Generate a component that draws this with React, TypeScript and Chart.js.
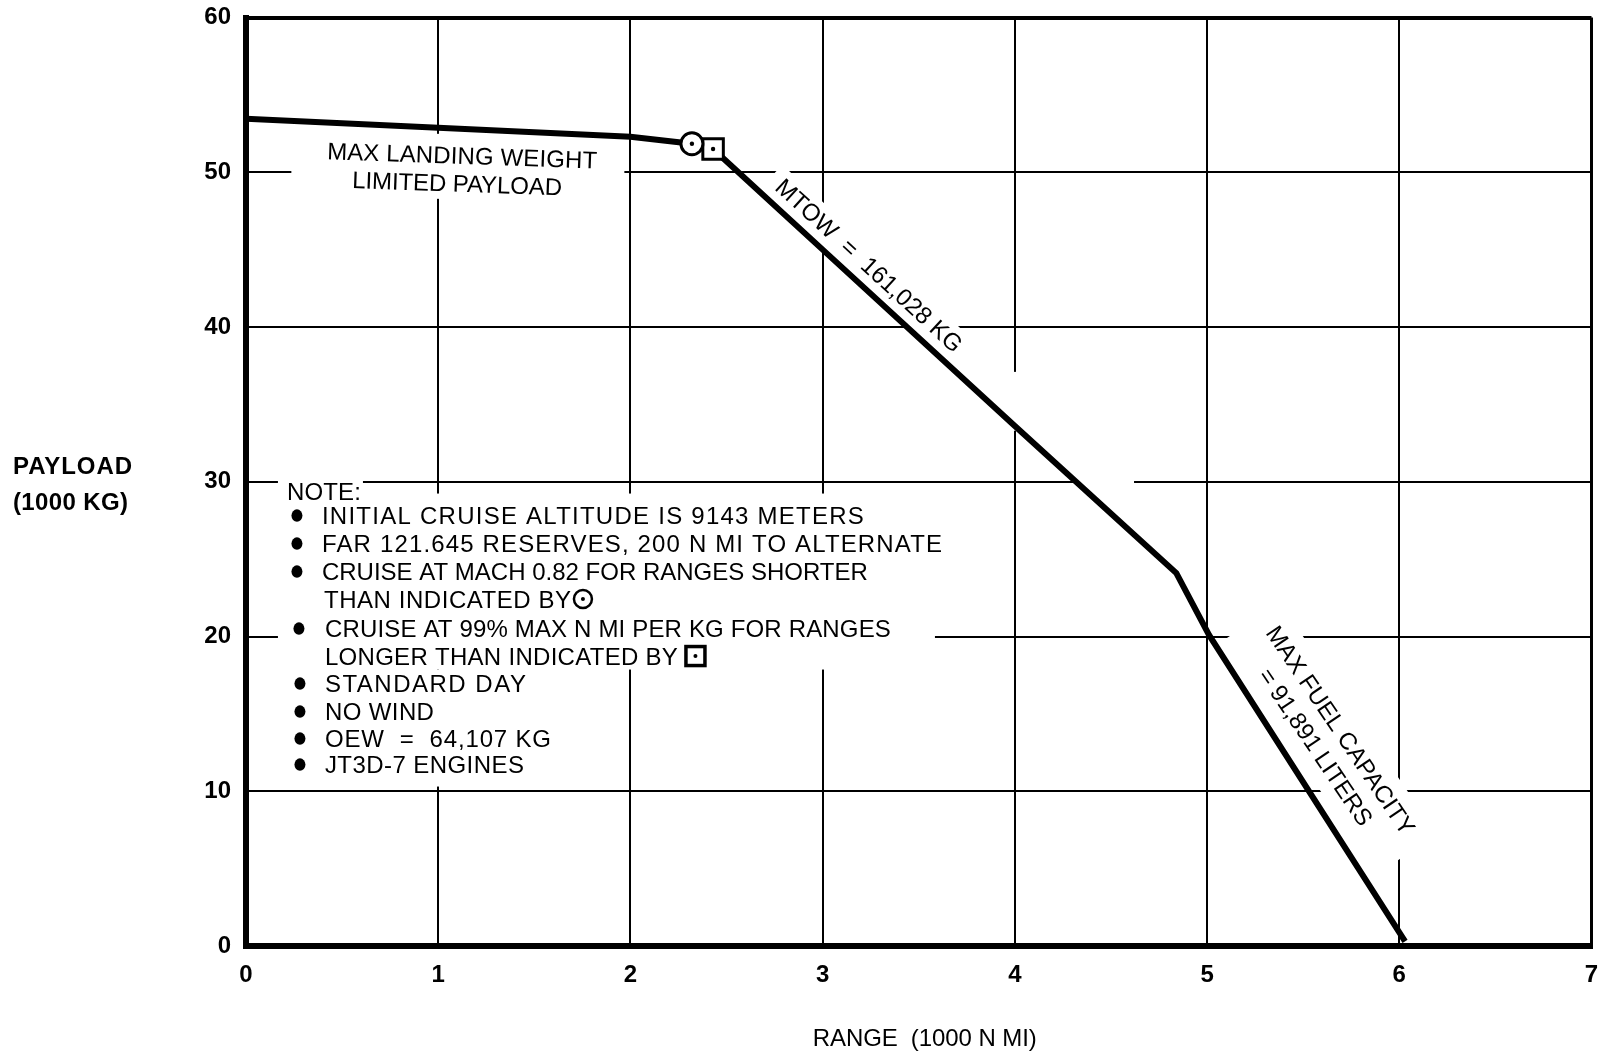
import { useEffect, useRef } from 'react';
import { Chart, registerables } from 'chart.js';

Chart.register(...registerables);

const FONT = '"Liberation Sans", Arial, Helvetica, sans-serif';

// Payload-range curve (range in 1000 N MI, payload in 1000 KG)
const rangeThousandNmi = [0, 1.0, 2.0, 2.32, 2.43, 3.0, 4.0, 4.84, 5.01, 6.03];
const payloadThousandKg = [53.46, 52.88, 52.3, 51.84, 51.5, 45.0, 33.6, 24.1, 20.1, 0.3];

// Cruise-mode change markers
const circleMarkerRange = [2.32];
const circleMarkerPayload = [51.84];
const squareMarkerRange = [2.43];
const squareMarkerPayload = [51.5];

// Axes
const xTickValues = [0, 1, 2, 3, 4, 5, 6, 7];
const yTickValues = [0, 10, 20, 30, 40, 50, 60];
const xAxisTitle = 'RANGE  (1000 N MI)';
const yAxisTitle = ['PAYLOAD', '(1000 KG)'];

// Text on the chart
const landingLabel = ['MAX LANDING WEIGHT', 'LIMITED PAYLOAD'];
const mtowLabel = 'MTOW  =  161,028 KG';
const fuelLabel = ['MAX FUEL CAPACITY', '= 91,891 LITERS'];
const noteTitle = 'NOTE:';
const noteLines = [
  'INITIAL CRUISE ALTITUDE IS 9143 METERS',
  'FAR 121.645 RESERVES, 200 N MI TO ALTERNATE',
  'CRUISE AT MACH 0.82 FOR RANGES SHORTER',
  'THAN INDICATED BY',
  'CRUISE AT 99% MAX N MI PER KG FOR RANGES',
  'LONGER THAN INDICATED BY',
  'STANDARD DAY',
  'NO WIND',
  'OEW  =  64,107 KG',
  'JT3D-7 ENGINES',
];
const noteBullets = [true, true, true, false, true, false, true, true, true, true];
const noteSymbols = ['', '', '', 'circle', '', 'square', '', '', '', ''];
// layout of the note block (pixel offsets from the anchor)
const noteWidths = [542, 620, 546, 247, 566, 353, 201, 109, 226, 199];
const noteTextX = [35, 35, 35, 37, 38, 38, 38, 38, 38, 38];
const noteBulletX = [10, 10, 10, 0, 12, 0, 13, 13, 13, 13];
const noteBaselines = [24, 52, 80, 108, 137, 165, 192, 220, 247, 273];

function fitText(ctx: CanvasRenderingContext2D, text: string, x: number, y: number, width?: number) {
  (ctx as any).letterSpacing = '0px';
  if (width) {
    const w = ctx.measureText(text).width;
    const n = Array.from(text).length;
    const ls = (width - w) / Math.max(1, n - 1);
    (ctx as any).letterSpacing = ls.toFixed(2) + 'px';
    if (ctx.textAlign === 'center') x += ls / 2;
  }
  ctx.fillText(text, x, y);
  (ctx as any).letterSpacing = '0px';
}

const annotationPlugin = {
  id: 'payloadAnnotations',
  beforeDatasetsDraw(chart: any) {
    const ctx: CanvasRenderingContext2D = chart.ctx;
    const xs = chart.scales.x;
    const ys = chart.scales.y;
    const px = (v: number) => xs.getPixelForValue(v);
    const py = (v: number) => ys.getPixelForValue(v);
    ctx.save();

    // small white-out gaps in the original grid
    ctx.fillStyle = '#fff';
    const m1x0 = px(3.97), m1x1 = px(4.03), m1y0 = py(37.1), m1y1 = py(33.3);
    ctx.fillRect(m1x0, m1y0, m1x1 - m1x0, m1y1 - m1y0);
    const m2x0 = px(4.32), m2x1 = px(4.62), m2y0 = py(30.4), m2y1 = py(29.6);
    ctx.fillRect(m2x0, m2y0, m2x1 - m2x0, m2y1 - m2y0);

    ctx.fillStyle = '#000';
    ctx.textBaseline = 'alphabetic';

    // MAX LANDING WEIGHT LIMITED PAYLOAD
    {
      const cx = px(1.11), cy = py(49.64);
      ctx.save();
      ctx.fillStyle = '#fff';
      ctx.fillRect(cx - 168, cy - 44, 333, 65);
      ctx.translate(cx, cy);
      ctx.rotate((2 * Math.PI) / 180);
      ctx.fillStyle = '#000';
      ctx.font = `24px ${FONT}`;
      ctx.textAlign = 'center';
      fitText(ctx, landingLabel[0], 2, -14, 270);
      fitText(ctx, landingLabel[1], -2, 14, 210);
      ctx.restore();
    }

    // MTOW label
    {
      const cx = px(3.243), cy = py(44.0);
      ctx.save();
      ctx.translate(cx, cy);
      ctx.rotate((42.5 * Math.PI) / 180);
      ctx.fillStyle = '#fff';
      ctx.fillRect(-132, -15, 264, 37);
      ctx.fillStyle = '#000';
      ctx.font = `24px ${FONT}`;
      ctx.textAlign = 'center';
      fitText(ctx, mtowLabel, 0, 8.5, 244);
      ctx.restore();
    }

    // MAX FUEL CAPACITY label
    {
      const cx = px(5.696), cy = py(13.96);
      ctx.save();
      ctx.translate(cx, cy);
      ctx.rotate((56 * Math.PI) / 180);
      ctx.fillStyle = '#fff';
      ctx.fillRect(-140, -21, 280, 72);
      ctx.fillStyle = '#000';
      ctx.font = `24px ${FONT}`;
      ctx.textAlign = 'center';
      fitText(ctx, fuelLabel[0], 0, 8.5, 246);
      fitText(ctx, fuelLabel[1], 0, 38.5, 184);
      ctx.restore();
    }

    // NOTE block
    {
      const ax = px(0.213), ay = py(28.85);
      ctx.save();
      ctx.fillStyle = '#fff';
      ctx.fillRect(ax - 9, ay - 22, 85, 25);
      ctx.fillRect(ax - 9, ay - 6, 657, 176);
      ctx.fillRect(ax - 9, ay + 170, 282, 117);
      ctx.fillStyle = '#000';
      ctx.strokeStyle = '#000';
      ctx.font = `24px ${FONT}`;
      ctx.textAlign = 'left';
      fitText(ctx, noteTitle, ax, ay, 74);
      noteLines.forEach((line, i) => {
        const by = ay + noteBaselines[i];
        const tx = ax + noteTextX[i];
        if (noteBullets[i]) {
          ctx.beginPath();
          ctx.ellipse(ax + noteBulletX[i], by - 8, 5.5, 6.2, 0, 0, Math.PI * 2);
          ctx.fill();
        }
        fitText(ctx, line, tx, by, noteWidths[i]);
        const endX = tx + noteWidths[i];
        if (noteSymbols[i] === 'circle') {
          ctx.lineWidth = 2.5;
          ctx.beginPath();
          ctx.arc(endX + 12, by - 8.5, 9, 0, Math.PI * 2);
          ctx.stroke();
          ctx.beginPath();
          ctx.arc(endX + 12, by - 8.5, 2, 0, Math.PI * 2);
          ctx.fill();
        } else if (noteSymbols[i] === 'square') {
          ctx.lineWidth = 3.5;
          ctx.strokeRect(endX + 8, by - 18, 19, 19);
          ctx.beginPath();
          ctx.arc(endX + 17.5, by - 8.5, 2, 0, Math.PI * 2);
          ctx.fill();
        }
      });
      ctx.restore();
    }

    ctx.restore();
  },
  afterDraw(chart: any) {
    const ctx: CanvasRenderingContext2D = chart.ctx;
    const area = chart.chartArea;
    const ys = chart.scales.y;
    ctx.save();
    ctx.fillStyle = '#000';
    ctx.textBaseline = 'alphabetic';
    // y-axis title
    ctx.font = `bold 24px ${FONT}`;
    ctx.textAlign = 'left';
    const yMid = ys.getPixelForValue(30);
    fitText(ctx, yAxisTitle[0], 13, yMid - 8, 119);
    fitText(ctx, yAxisTitle[1], 13, yMid + 28, 115);
    // x-axis title
    ctx.font = `24px ${FONT}`;
    ctx.textAlign = 'center';
    fitText(ctx, xAxisTitle, (area.left + area.right) / 2 + 6, area.bottom + 100, 224);
    ctx.restore();
  },
};

export default function App() {
  const canvasRef = useRef<HTMLCanvasElement | null>(null);

  useEffect(() => {
    const canvas = canvasRef.current;
    if (!canvas) return;
    const curve = rangeThousandNmi.map((r, i) => ({ x: r, y: payloadThousandKg[i] }));
    const circlePts = circleMarkerRange.map((r, i) => ({ x: r, y: circleMarkerPayload[i] }));
    const squarePts = squareMarkerRange.map((r, i) => ({ x: r, y: squareMarkerPayload[i] }));

    const chart = new Chart(canvas, {
      type: 'line',
      data: {
        datasets: [
          {
            label: 'dots',
            data: [...circlePts, ...squarePts],
            showLine: false,
            pointRadius: 2.2,
            pointBackgroundColor: '#000',
            pointBorderWidth: 0,
            order: 0,
          } as any,
          {
            label: 'circle',
            data: circlePts,
            showLine: false,
            pointStyle: 'circle',
            pointRadius: 11,
            pointBackgroundColor: '#fff',
            pointBorderColor: '#000',
            pointBorderWidth: 3,
            order: 1,
          } as any,
          {
            label: 'square',
            data: squarePts,
            showLine: false,
            pointStyle: 'rect',
            pointRadius: 14.5,
            pointBackgroundColor: '#fff',
            pointBorderColor: '#000',
            pointBorderWidth: 3,
            order: 1,
          } as any,
          {
            label: 'Payload',
            data: curve,
            borderColor: '#000',
            borderWidth: 6,
            pointRadius: 0,
            tension: 0,
            fill: false,
            borderJoinStyle: 'miter',
            order: 2,
          } as any,
        ],
      },
      options: {
        responsive: false,
        animation: false,
        devicePixelRatio: 1,
        events: [],
        layout: { padding: { left: 0, top: 16, right: 16, bottom: 0 } },
        plugins: {
          legend: { display: false },
          tooltip: { enabled: false },
          title: { display: false },
        },
        scales: {
          x: {
            type: 'linear',
            min: 0,
            max: 7,
            afterBuildTicks: (scale: any) => {
              scale.ticks = xTickValues.map((v) => ({ value: v }));
            },
            afterFit: (scale: any) => {
              scale.height = 106;
              scale.paddingLeft = 0;
              scale.paddingRight = 0;
            },
            ticks: {
              color: '#000',
              font: { family: FONT, size: 24, weight: 'bold' },
              padding: 15,
              maxRotation: 0,
              autoSkip: false,
            },
            grid: {
              color: '#000',
              lineWidth: (c: any) => (c.tick && c.tick.value === 7 ? 3 : 2),
              drawTicks: false,
            },
            border: { display: true, color: '#000', width: 6 },
          },
          y: {
            type: 'linear',
            min: 0,
            max: 60,
            afterBuildTicks: (scale: any) => {
              scale.ticks = yTickValues.map((v) => ({ value: v }));
            },
            afterFit: (scale: any) => {
              scale.width = 246;
              scale.paddingTop = 0;
              scale.paddingBottom = 0;
            },
            ticks: {
              color: '#000',
              font: { family: FONT, size: 24, weight: 'bold' },
              padding: 15,
              autoSkip: false,
            },
            grid: {
              color: '#000',
              lineWidth: (c: any) => (c.tick && c.tick.value === 60 ? 4 : 2),
              drawTicks: false,
            },
            border: { display: true, color: '#000', width: 6 },
          },
        },
      } as any,
      plugins: [annotationPlugin],
    });
    return () => {
      chart.destroy();
    };
  }, []);

  return (
    <div style={{ position: 'fixed', left: 0, top: 0, width: 1609, height: 1052, background: '#fff' }}>
      <canvas ref={canvasRef} width={1609} height={1052} style={{ display: 'block', width: 1609, height: 1052 }} />
    </div>
  );
}
